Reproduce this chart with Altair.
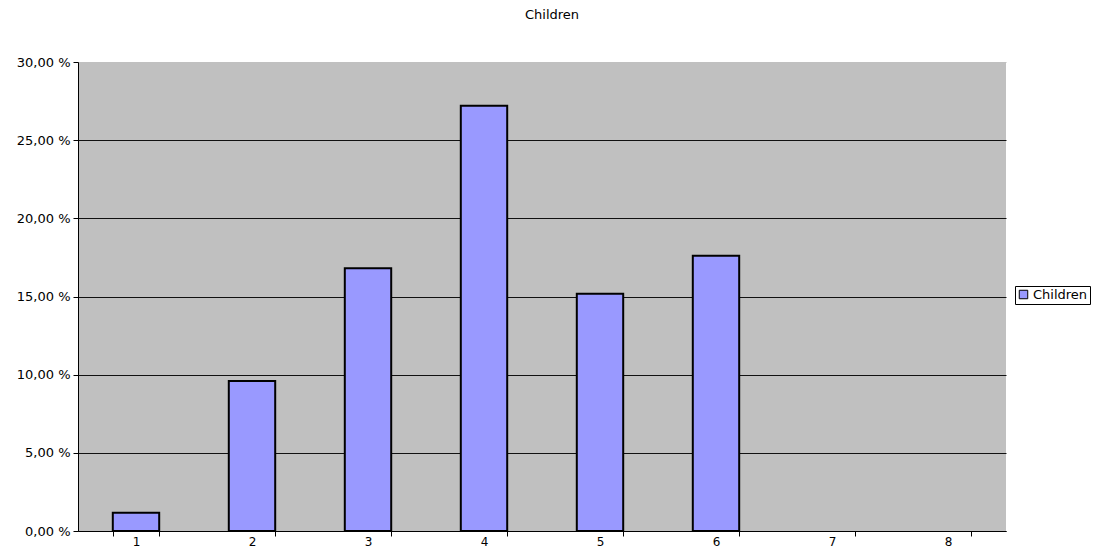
import altair as alt
import pandas as pd

categories = ["1", "2", "3", "4", "5", "6", "7", "8"]
values = [1.17, 9.6, 16.8, 27.2, 15.17, 17.6, 0, 0]
series = ["Children"] * 8
y_ticks = [0, 5, 10, 15, 20, 25, 30]

df = pd.DataFrame({"cat": categories, "pct": values, "series": series})

FONT = "DejaVu Sans"

chart = alt.Chart(df).mark_bar(stroke="black", strokeWidth=2).encode(
    x=alt.X("cat:N", sort=categories, title=None,
            scale=alt.Scale(paddingInner=0.6, paddingOuter=0.3),
            axis=alt.Axis(labelAngle=0, tickBand="extent", tickSize=5,
                          tickColor="black", domainColor="black",
                          labelFontSize=12, labelColor="black", labelPadding=0,
                          labelFont=FONT, grid=False)),
    y=alt.Y("pct:Q", title=None,
            scale=alt.Scale(domain=[0, 30], nice=False),
            axis=alt.Axis(values=y_ticks, tickSize=5, tickColor="black",
                          domainColor="black", labelFontSize=13,
                          labelColor="black", labelFont=FONT, labelPadding=3,
                          labelExpr="replace(format(datum.value, '.2f'), '.', ',') + ' %'",
                          grid=True,
                          gridColor={"condition": {"test": "datum.value >= 29.9", "value": "#C0C0C0"}, "value": "#111111"},
                          gridWidth=1)),
    strokeOpacity=alt.condition(alt.datum.pct > 0, alt.value(1), alt.value(0)),
    color=alt.Color("series:N", title=None,
                    scale=alt.Scale(range=["#9999FF"]),
                    legend=alt.Legend(orient="none", legendX=937, legendY=224,
                                      strokeColor="black", padding=2,
                                      symbolType="square", symbolSize=72,
                                      symbolStrokeColor="black", symbolStrokeWidth=1,
                                      labelFontSize=13, labelFont=FONT,
                                      labelColor="black", labelOffset=3)),
).properties(
    width=928, height=469,
    title=alt.TitleParams("Children", fontSize=13, fontWeight="normal",
                          font=FONT, color="black", anchor="middle", offset=34, dx=10),
    autosize=alt.AutoSizeParams(type="none"),
    padding={"left": 70, "top": 54, "right": 90, "bottom": 18},
).configure_view(fill="#C0C0C0", stroke=None)

chart.save("out.html", embed_options={"renderer": "svg", "actions": False})
